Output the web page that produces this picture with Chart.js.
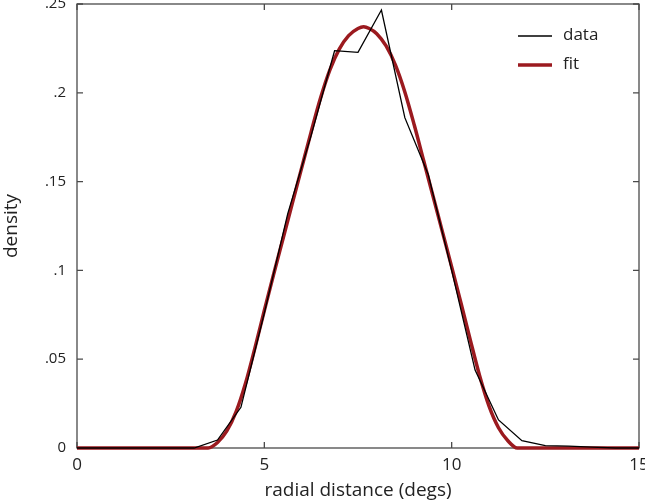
<!DOCTYPE html>
<html>
<head>
<meta charset="utf-8">
<script src="https://cdn.jsdelivr.net/npm/chart.js@4"></script>
<style>
  html, body { margin: 0; padding: 0; background: #fff; }
</style>
</head>
<body>
<canvas id="chart" width="645" height="502"></canvas>
<script>
// histogram of radial distance (bin centres every 0.625 deg)
const dataX = [0, 0.625, 1.25, 1.875, 2.5, 3.125, 3.75, 4.375, 5.0, 5.625, 6.25, 6.875,
               7.5, 8.125, 8.75, 9.375, 10.0, 10.625, 11.25, 11.875, 12.5, 13.125, 13.75, 14.375, 15];
const dataY = [0, 0, 0, 0, 0, 0, 0.0045, 0.0229, 0.076, 0.132, 0.176, 0.2237,
               0.2228, 0.2466, 0.186, 0.154, 0.100, 0.0439, 0.0158, 0.0041, 0.0013, 0.0010, 0.0005, 0, 0];

// fitted curve
const fitX = [0, 3.5, 3.75, 4.0, 4.25, 4.5, 4.75, 5.0, 5.25, 5.5, 5.75, 6.0, 6.25, 6.5, 6.75, 7.0,
              7.25, 7.5, 7.65, 7.8, 8.0, 8.25, 8.5, 8.75, 9.0, 9.25, 9.5, 9.75, 10.0, 10.25, 10.5,
              10.75, 11.0, 11.25, 11.5, 11.75, 15];
const fitY = [0, 0, 0.0031, 0.0096, 0.0206, 0.0366, 0.0564, 0.0774, 0.098, 0.118, 0.138, 0.158,
              0.178, 0.197, 0.2129, 0.2246, 0.2322, 0.2362, 0.2372, 0.2362, 0.2333, 0.2264, 0.2156, 0.2005,
              0.182, 0.162, 0.142, 0.122, 0.102, 0.0816, 0.0606, 0.0404, 0.0234, 0.0114, 0.0041, 0, 0];

const xTickValues = [0, 5, 10, 15];
const xTickLabels = ["0", "5", "10", "15"];
const yTickValues = [0, 0.05, 0.1, 0.15, 0.2, 0.25];
const yTickLabels = ["0", ".05", ".1", ".15", ".2", ".25"];

const FONT = "'Open Sans', 'Noto Sans', sans-serif";
const AXIS = "#4a4a4a";
const TEXT = "#222";
const RED = "#9b1a1f";

// box around the plot with inward ticks on all four sides
const boxPlugin = {
    id: "box",
    beforeDatasetsDraw(chart) {
        const { ctx, chartArea: { left, top, right, bottom }, scales: { x, y } } = chart;
        ctx.save();
        ctx.strokeStyle = AXIS;
        ctx.lineWidth = 1.3;
        ctx.strokeRect(left, top, right - left, bottom - top);
        ctx.beginPath();
        xTickValues.forEach(v => {
            const px = x.getPixelForValue(v);
            ctx.moveTo(px, bottom); ctx.lineTo(px, bottom - 6);
            ctx.moveTo(px, top); ctx.lineTo(px, top + 6);
        });
        yTickValues.forEach(v => {
            const py = y.getPixelForValue(v);
            ctx.moveTo(left, py); ctx.lineTo(left + 6, py);
            ctx.moveTo(right, py); ctx.lineTo(right - 6, py);
        });
        ctx.stroke();
        ctx.restore();
    },
    afterDraw(chart) {
        // legend, top right inside the box
        const { ctx } = chart;
        ctx.save();
        ctx.font = "17px " + FONT;
        ctx.fillStyle = TEXT;
        ctx.textBaseline = "middle";
        chart.data.datasets.forEach((ds, i) => {
            const yy = 36 + i * 29;
            ctx.strokeStyle = ds.borderColor;
            ctx.lineWidth = ds.borderWidth;
            ctx.beginPath();
            ctx.moveTo(518, yy); ctx.lineTo(552, yy);
            ctx.stroke();
            ctx.fillText(ds.label, 563, yy - 1);
        });
        ctx.restore();
    }
};

new Chart(document.getElementById("chart"), {
    type: "line",
    data: {
        datasets: [
            {
                label: "data",
                data: dataX.map((v, i) => ({ x: v, y: dataY[i] })),
                borderColor: "#000",
                borderWidth: 1.3,
                pointRadius: 0,
                tension: 0,
                clip: 4
            },
            {
                label: "fit",
                data: fitX.map((v, i) => ({ x: v, y: fitY[i] })),
                borderColor: RED,
                borderWidth: 3.5,
                pointRadius: 0,
                cubicInterpolationMode: "monotone",
                clip: 4
            }
        ]
    },
    options: {
        responsive: false,
        animation: false,
        layout: { padding: { top: 4, right: 6, left: 0, bottom: 0 } },
        plugins: {
            legend: { display: false },
            tooltip: { enabled: false }
        },
        scales: {
            x: {
                type: "linear",
                min: 0,
                max: 15,
                grid: { display: false, drawTicks: false },
                border: { display: false },
                afterBuildTicks: s => { s.ticks = xTickValues.map(v => ({ value: v })); },
                afterFit: s => {
                    s.height = 54;
                    s.paddingLeft = 0; s.paddingRight = 0;
                },
                ticks: {
                    padding: 7,
                    color: TEXT,
                    font: { family: FONT, size: 17 },
                    maxRotation: 0,
                    callback: (v, i) => xTickLabels[i]
                },
                title: {
                    display: true,
                    text: "radial distance (degs)",
                    color: TEXT,
                    font: { family: FONT, size: 19 },
                    padding: { top: 0, bottom: 0 }
                }
            },
            y: {
                min: 0,
                max: 0.25,
                grid: { display: false, drawTicks: false },
                border: { display: false },
                afterBuildTicks: s => { s.ticks = yTickValues.map(v => ({ value: v })); },
                afterFit: s => {
                    s.width = 77;
                    s.paddingTop = 0; s.paddingBottom = 0;
                },
                ticks: {
                    padding: 11,
                    color: TEXT,
                    font: { family: FONT, size: 15 },
                    callback: (v, i) => yTickLabels[i]
                },
                title: {
                    display: true,
                    text: "density",
                    color: TEXT,
                    font: { family: FONT, size: 19 },
                    padding: { top: 0, bottom: 0 }
                }
            }
        }
    },
    plugins: [boxPlugin]
});
</script>
</body>
</html>
